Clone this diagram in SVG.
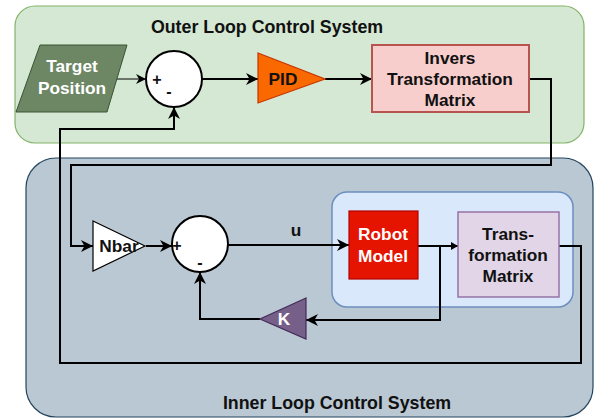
<svg xmlns="http://www.w3.org/2000/svg" width="595" height="420" viewBox="0 0 595 420">
  <style>
    text { font-family: "Liberation Sans", Arial, sans-serif; font-weight: bold; font-size: 17.3px; text-anchor: middle; }
    .title { font-size: 17.8px; }
    .sign { font-size: 16px; }
    .dark { fill: #111111; }
    .light { fill: #ffffff; }
    .wire { fill: none; stroke: #000000; stroke-width: 2; }
    .thin { fill: none; stroke: #000000; stroke-width: 1; }
  </style>
  <defs>
    <marker id="arrow" markerUnits="userSpaceOnUse" markerWidth="14" markerHeight="12" refX="12" refY="6" orient="auto">
      <path d="M0,0 L12,6 L0,12 L3.5,6 z" fill="#000000"/>
    </marker>
    <marker id="arrowSmall" markerUnits="userSpaceOnUse" markerWidth="12" markerHeight="10" refX="10" refY="5" orient="auto">
      <path d="M0,0 L10,5 L0,10 L3,5 z" fill="#000000"/>
    </marker>
    <marker id="arrowTiny" markerUnits="userSpaceOnUse" markerWidth="8" markerHeight="8" refX="7" refY="4" orient="auto">
      <path d="M0,0 L7,4 L0,8 z" fill="#000000"/>
    </marker>
  </defs>

  <!-- containers -->
  <g id="outer-loop">
    <rect x="15" y="6" width="569" height="137" rx="20" fill="#d5e8d4" stroke="#82b366" stroke-width="1.2"/>
    <text x="267" y="33" class="dark title">Outer Loop Control System</text>
  </g>
  <g id="inner-loop">
    <rect x="26" y="158" width="567" height="259" rx="30" fill="#bac8d3" stroke="#23445d" stroke-width="1.2"/>
    <text x="337" y="409" class="dark title">Inner Loop Control System</text>
  </g>
  <g id="plant">
    <rect x="332" y="192" width="241" height="115" rx="15" fill="#dae8fc" stroke="#6c8ebf" stroke-width="1.5"/>
  </g>

  <!-- connectors -->
  <g id="connectors">
    <path class="thin" d="M116,79 H146" marker-end="url(#arrowSmall)"/>
    <path class="wire" d="M202,79 H258" marker-end="url(#arrow)"/>
    <path class="wire" d="M325,79 H372" marker-end="url(#arrow)"/>
    <path class="wire" d="M529,79 H551 V165 H71 V246 H93" marker-end="url(#arrow)"/>
    <path class="wire" d="M559,246 H581 V363 H60 V129 H174 V107" marker-end="url(#arrow)"/>
    <path class="wire" d="M146,246 H172" marker-end="url(#arrow)"/>
    <path class="wire" d="M228,245 H349" marker-end="url(#arrow)"/>
    <path class="wire" d="M418,246 H458" marker-end="url(#arrowTiny)"/>
    <path class="wire" d="M440,246 V320 H306" marker-end="url(#arrow)"/>
    <path class="wire" d="M260,319 H200 V272" marker-end="url(#arrow)"/>
    <text x="296" y="236" class="dark">u</text>
  </g>

  <!-- nodes -->
  <g id="target-position">
    <polygon points="40,45 127,45 107,112 16,112" fill="#6d8764" stroke="#3a5431" stroke-width="1"/>
    <text x="72" y="72" class="light">Target</text>
    <text x="72" y="94" class="light">Position</text>
  </g>
  <g id="sum-outer">
    <circle cx="174" cy="79" r="28" fill="#ffffff" stroke="#000000" stroke-width="2"/>
    <text x="157" y="85" class="dark sign">+</text>
    <text x="169" y="97" class="dark sign">-</text>
  </g>
  <g id="pid">
    <polygon points="258,53 325,79 258,103" fill="#fa6800" stroke="#c73500" stroke-width="1.2"/>
    <text x="283" y="85" class="dark">PID</text>
  </g>
  <g id="inverse-transformation">
    <rect x="372" y="45" width="157" height="67" fill="#f8cecc" stroke="#b85450" stroke-width="2"/>
    <text x="450" y="64" class="dark">Invers</text>
    <text x="450" y="85" class="dark">Transformation</text>
    <text x="450" y="106" class="dark">Matrix</text>
  </g>
  <g id="nbar">
    <polygon points="93,221 145,246 93,271" fill="#ffffff" stroke="#000000" stroke-width="1.2"/>
    <text x="119" y="252" class="dark">Nbar</text>
  </g>
  <g id="sum-inner">
    <circle cx="200" cy="244" r="28" fill="#ffffff" stroke="#000000" stroke-width="2"/>
    <text x="177" y="251" class="dark sign">+</text>
    <text x="200" y="268" class="dark sign">-</text>
  </g>
  <g id="robot-model">
    <rect x="349" y="211" width="69" height="68" fill="#e51400" stroke="#b20000" stroke-width="1.2"/>
    <text x="383" y="240" class="light">Robot</text>
    <text x="383" y="262" class="light">Model</text>
  </g>
  <g id="transformation">
    <rect x="458" y="212" width="101" height="85" fill="#e1d5e7" stroke="#9673a6" stroke-width="1.5"/>
    <text x="508" y="240" class="dark">Trans-</text>
    <text x="508" y="261" class="dark">formation</text>
    <text x="508" y="282" class="dark">Matrix</text>
  </g>
  <g id="gain-k">
    <polygon points="306,298 260,319 306,339" fill="#76608a" stroke="#432d57" stroke-width="1.2"/>
    <text x="284" y="325" class="light">K</text>
  </g>
</svg>
